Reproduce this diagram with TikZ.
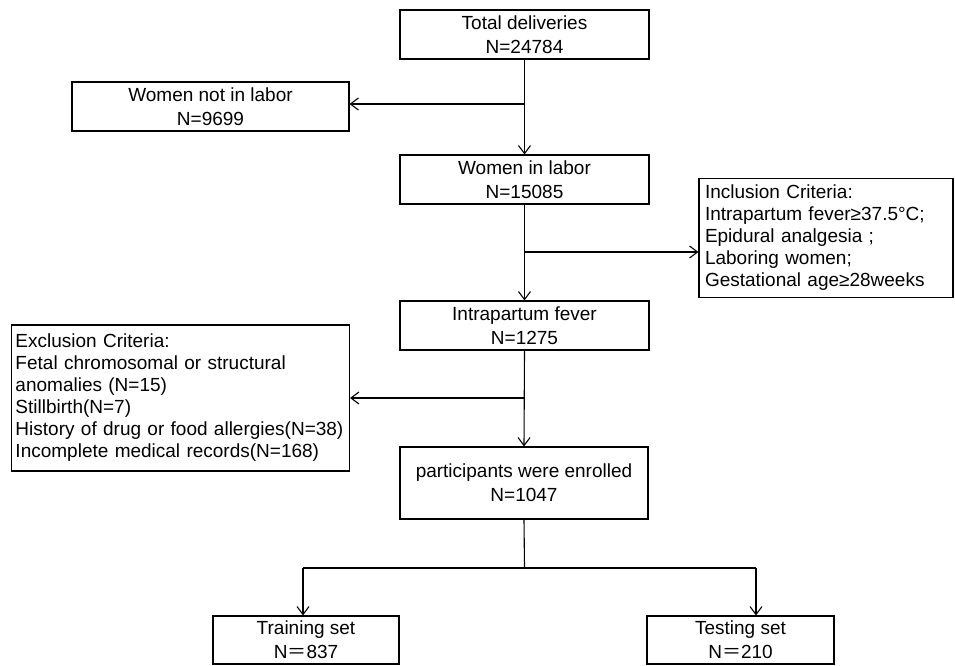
\documentclass[tikz,border=0pt]{standalone}
\usepackage{fontspec}
\setmainfont{Liberation Sans}
\newfontfamily\cjk{Noto Sans CJK SC}
\usetikzlibrary{arrows.meta}
\newcommand{\fwe}{{\cjk ＝}}
\tikzset{
  box/.style={draw, line width=1.1pt, inner sep=0pt, align=center,
    font=\fontsize{19}{24}\selectfont},
  critbox/.style={draw, line width=1.1pt, inner xsep=4pt, inner ysep=0pt, align=left,
    font=\fontsize{19}{22}\selectfont},
  conn/.style={line width=1.1pt},
  arr/.style={conn, -{Straight Barb[length=8pt,width=12pt,line width=1.1pt]}}
}
\begin{document}
\begin{tikzpicture}[x=1pt,y=-1pt]
\useasboundingbox (0,0) rectangle (955,665);
\node[box, minimum width=249pt, minimum height=49pt] (tot) at (524.5,34.5) {Total deliveries\\N=24784};
\node[box, minimum width=277pt, minimum height=49pt] (notl) at (210.5,106.5) {Women not in labor\\N=9699};
\node[box, minimum width=249pt, minimum height=49pt] (inl) at (524.5,179.5) {Women in labor\\N=15085};
\node[critbox, inner xsep=6pt, minimum width=254pt, text width=242pt, minimum height=119pt] (inc) at (826,238) {Inclusion Criteria:\\Intrapartum fever≥37.5°C;\\Epidural analgesia ;\\Laboring women;\\Gestational age≥28weeks};
\node[box, minimum width=249pt, minimum height=49pt] (fev) at (524.5,325.5) {Intrapartum fever\\N=1275};
\node[critbox, minimum width=338pt, text width=330pt, minimum height=146pt] (exc) at (180.5,398) {Exclusion Criteria:\\Fetal chromosomal or structural\\anomalies (N=15)\\Stillbirth(N=7)\\History of drug or food allergies(N=38)\\Incomplete medical records(N=168)};
\node[box, minimum width=248pt, minimum height=72pt] (par) at (524,483) {participants were enrolled\\N=1047};
\node[box, minimum width=186pt, minimum height=48pt] (tr) at (306,640) {Training set\\N\fwe837};
\node[box, minimum width=187pt, minimum height=48pt] (te) at (740.5,640) {Testing set\\N\fwe210};

\coordinate (b1) at (524.5,104);
\coordinate (b2) at (524.5,252);
\coordinate (b3) at (524.5,398);
\coordinate (b4) at (524.5,568);
\coordinate (c1) at (303,568);
\coordinate (c2) at (756,568);

\draw[arr] (tot.south) -- (inl.north);
\draw[arr] (b1) -- (b1 -| notl.east);
\draw[arr] (inl.south) -- (fev.north);
\draw[arr] (b2) -- (b2 -| inc.west);
\draw[arr] (fev.south) -- (par.north);
\draw[arr] (b3) -- (b3 -| exc.east);
\draw[conn] (par.south) -- (b4);
\draw[conn] (c1) -- (c2);
\draw[arr] (c1) -- (c1 |- tr.north);
\draw[arr] (c2) -- (c2 |- te.north);
\end{tikzpicture}
\end{document}
